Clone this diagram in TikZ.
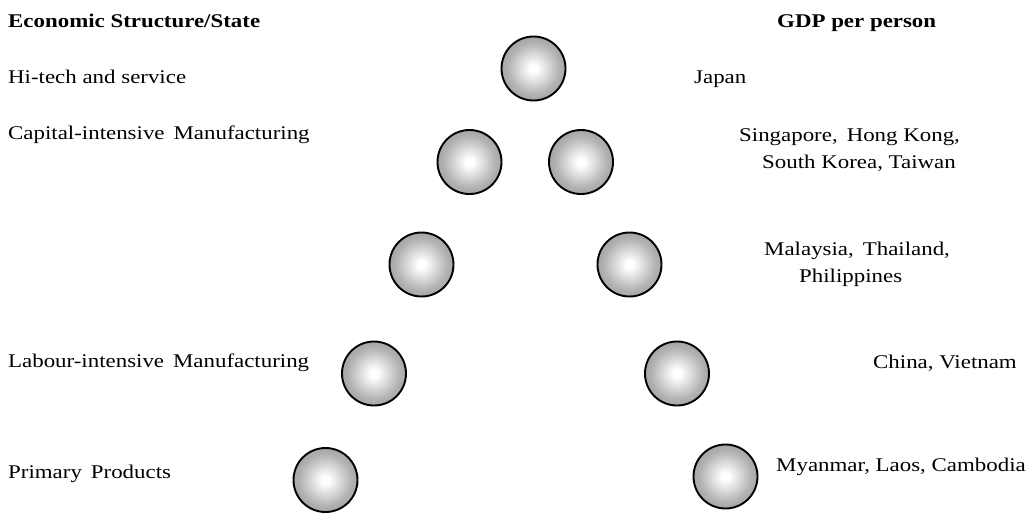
\documentclass[tikz,border=0pt]{standalone}
\usepackage{fontspec}
\setmainfont{Liberation Serif}[FakeStretch=1.18]
% grey sphere: small white core fading to mid grey at the rim
\pgfdeclareradialshading{sphere}{\pgfpoint{0bp}{0bp}}{color(0bp)=(white); color(3bp)=(white); color(20bp)=(black!30); color(38bp)=(black!48); color(50bp)=(black!58)}
\newcommand\wgap{\hspace{9pt}}
\begin{document}
\begin{tikzpicture}[x=1pt,y=-1pt,
  orb/.style={circle, draw=black, line width=1.9pt, shading=sphere, minimum size=64pt, inner sep=0pt},
  lbl/.style={anchor=base west, inner sep=0pt, font=\fontsize{19.4}{23}\selectfont, text=black},
  head/.style={lbl, font=\fontsize{19.4}{23}\selectfont\bfseries}]
\useasboundingbox (0,0) rectangle (1031,515);

% headings
\node[head] (hl) at (8,27) {Economic Structure/State};
\node[head] (hr) at (777,27) {GDP per person};

% economic structure, left column
\node[lbl] (s1) at (8,83) {Hi-tech and service};
\node[lbl] (s2) at (8,139) {Capital-intensive\wgap Manufacturing};
\node[lbl] (s4) at (8,367) {Labour-intensive\wgap Manufacturing};
\node[lbl] (s5) at (8,478) {Primary\wgap Products};

% the pyramid of spheres
\node[orb] (top) at (533.5,68.5) {};
\node[orb] (l2) at (469.5,162) {};
\node[orb] (r2) at (581,162) {};
\node[orb] (l3) at (421.5,264.5) {};
\node[orb] (r3) at (629.5,264.5) {};
\node[orb] (l4) at (374,373.5) {};
\node[orb] (r4) at (677,373.5) {};
\node[orb] (l5) at (325.5,480) {};
\node[orb] (r5) at (725.5,476.5) {};

% countries, right column
\node[lbl] (c1) at (694,83) {Japan};
\node[lbl] (c2a) at (739,141) {Singapore,\wgap Hong Kong,};
\node[lbl] (c2b) at (762,168) {South Korea, Taiwan};
\node[lbl] (c3a) at (764,255) {Malaysia,\wgap Thailand,};
\node[lbl] (c3b) at (799,282) {Philippines};
\node[lbl] (c4) at (873,368) {China, Vietnam};
\node[lbl] (c5) at (776,471) {Myanmar, Laos, Cambodia};
\end{tikzpicture}
\end{document}
